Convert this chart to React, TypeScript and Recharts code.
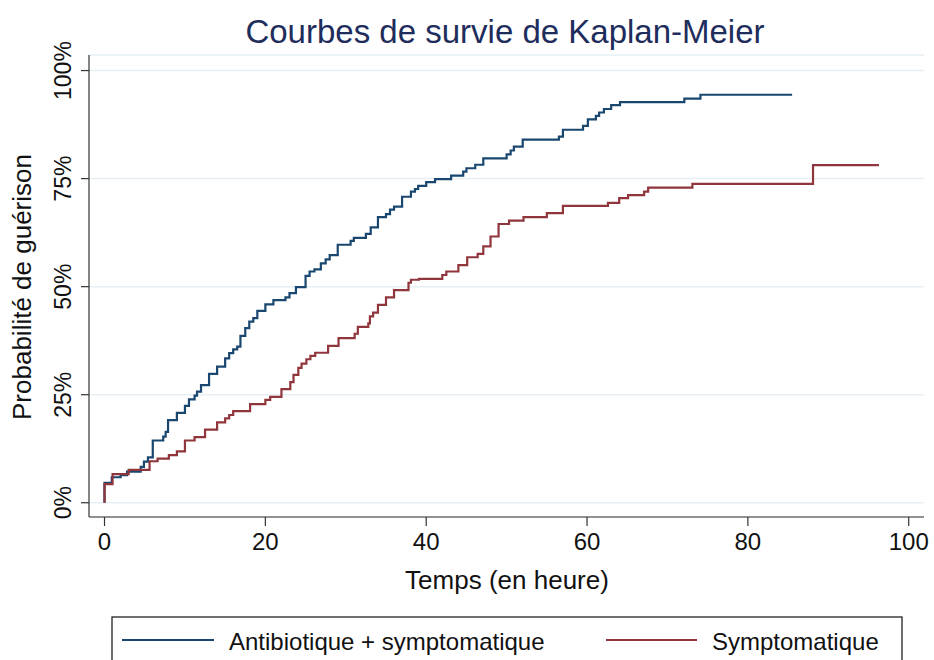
import React from "react";
import { LineChart, Line, XAxis, YAxis, CartesianGrid } from "recharts";

// Kaplan-Meier step data (time in hours, cumulative probability of cure in %)
const blueTimes = [0, 0, 0.9, 2.0, 2.8, 4.5, 4.9, 5.4, 6.0, 7.3, 7.6, 7.9, 9.0, 10.0, 10.5, 11.2, 11.5, 12.0, 13.0, 14.0, 15.0, 15.5, 16.0, 16.5, 16.9, 17.5, 18.0, 18.5, 19.0, 20.0, 21.0, 22.5, 23.0, 23.8, 25.0, 25.5, 26.1, 26.9, 27.5, 28.0, 29.0, 30.6, 31.0, 32.5, 33.1, 34.0, 35.0, 35.5, 36.0, 37.0, 38.1, 38.6, 39.0, 40.0, 41.1, 43.1, 44.6, 45.0, 46.1, 47.1, 50.0, 50.5, 50.9, 52.0, 56.5, 57.0, 59.5, 60.1, 61.1, 61.5, 62.1, 63.0, 64.1, 72.1, 74.1, 85.5];
const blueValues = [0, 4.6, 5.9, 6.4, 7.2, 8.3, 9.5, 10.5, 14.4, 15.3, 16.4, 19.1, 20.8, 22.4, 23.9, 24.8, 25.7, 27.2, 29.8, 31.5, 33.4, 34.6, 35.5, 36.1, 38.6, 40.4, 41.9, 42.7, 44.4, 45.9, 46.9, 47.5, 48.5, 49.9, 52.5, 53.5, 54.0, 55.4, 56.3, 57.3, 59.7, 60.6, 61.3, 62.2, 63.7, 66.1, 66.8, 67.8, 68.5, 70.8, 72.0, 72.6, 73.3, 74.2, 74.9, 75.7, 76.6, 77.4, 78.2, 79.7, 80.6, 81.5, 82.4, 84.0, 84.7, 86.3, 87.2, 88.7, 89.5, 90.3, 91.1, 92.0, 92.7, 93.5, 94.4, 94.4];

const redTimes = [0, 0, 1.0, 3.0, 5.6, 6.6, 8.0, 9.0, 10.0, 11.2, 12.5, 14.0, 15.0, 15.5, 16.0, 18.1, 20.0, 20.6, 22.0, 23.1, 23.5, 24.1, 24.5, 25.1, 25.6, 26.2, 27.8, 29.1, 31.1, 31.5, 32.8, 33.0, 33.4, 34.0, 35.0, 36.0, 37.8, 38.1, 39.1, 42.0, 42.5, 44.0, 45.1, 46.4, 47.1, 48.0, 49.0, 50.3, 52.1, 55.0, 57.0, 62.6, 64.0, 65.1, 67.1, 67.6, 73.1, 88.1, 96.3];
const redValues = [0, 4.3, 6.6, 7.6, 9.6, 10.2, 11.0, 11.9, 14.4, 15.2, 16.9, 18.6, 19.5, 20.3, 21.2, 22.8, 23.8, 24.5, 26.3, 27.9, 29.6, 31.2, 32.2, 33.2, 34.0, 34.7, 36.3, 38.1, 39.1, 40.7, 41.5, 43.1, 44.0, 45.8, 47.5, 49.2, 50.9, 51.6, 51.8, 52.7, 53.5, 55.0, 56.8, 57.6, 59.3, 61.6, 64.5, 65.3, 66.1, 67.0, 68.7, 69.4, 70.5, 71.2, 72.0, 72.9, 73.8, 78.1, 78.1];

const seriesNames = ["Antibiotique + symptomatique", "Symptomatique"];
const seriesColors = ["#1a476f", "#90353b"];
const xTicks = [0, 20, 40, 60, 80, 100];
const yTicks = [0, 25, 50, 75, 100];
const yTickLabels = ["0%", "25%", "50%", "75%", "100%"];
const title = "Courbes de survie de Kaplan-Meier";
const xTitle = "Temps (en heure)";
const yTitle = "Probabilité de guérison";

const blueData = blueTimes.map((t, i) => ({ t, p: blueValues[i] }));
const redData = redTimes.map((t, i) => ({ t, p: redValues[i] }));

const FONT = "'Liberation Sans', Arial, Helvetica, sans-serif";

const YTick = (props: any) => {
  const { y, payload } = props;
  const idx = yTicks.indexOf(payload.value);
  const label = idx >= 0 ? yTickLabels[idx] : String(payload.value);
  const bx = 71;
  return (
    <text
      x={bx}
      y={y}
      transform={`rotate(-90, ${bx}, ${y})`}
      textAnchor="middle"
      fontSize={23}
      fontFamily={FONT}
      fill="#111"
    >
      {label}
    </text>
  );
};

const XTick = (props: any) => {
  const { x, y, payload } = props;
  return (
    <text x={x} y={y} dy={22} textAnchor="middle" fontSize={24} fontFamily={FONT} fill="#111">
      {payload.value}
    </text>
  );
};

export default function App() {
  return (
    <div style={{ position: "absolute", left: 0, top: 0, width: 934, height: 660, background: "#fff", overflow: "hidden" }}>
      <LineChart
        width={934}
        height={660}
        margin={{ top: 55, right: 10, bottom: 103, left: 29 }}
      >
        <CartesianGrid horizontal={true} vertical={false} stroke="#e6eff3" strokeWidth={1.5} />
        <XAxis
          type="number"
          dataKey="t"
          domain={[-1.93, 101.9]}
          ticks={xTicks}
          interval={0}
          height={40}
          tickSize={9}
          tickMargin={2}
          stroke="#333"
          strokeWidth={1.2}
          tick={<XTick />}
          allowDataOverflow
        />
        <YAxis
          type="number"
          dataKey="p"
          domain={[-3.3, 103.6]}
          ticks={yTicks}
          interval={0}
          width={60}
          tickSize={8}
          stroke="#333"
          strokeWidth={1.2}
          tick={<YTick />}
          allowDataOverflow
        />
        <Line
          data={blueData}
          dataKey="p"
          type="stepAfter"
          stroke={seriesColors[0]}
          strokeWidth={2.2}
          dot={false}
          activeDot={false}
          isAnimationActive={false}
          name={seriesNames[0]}
        />
        <Line
          data={redData}
          dataKey="p"
          type="stepAfter"
          stroke={seriesColors[1]}
          strokeWidth={2.2}
          dot={false}
          activeDot={false}
          isAnimationActive={false}
          name={seriesNames[1]}
        />
      </LineChart>
      <svg
        width={934}
        height={660}
        style={{ position: "absolute", left: 0, top: 0, pointerEvents: "none" }}
      >
        <text x={505} y={43} textAnchor="middle" fontSize={33} fontFamily={FONT} fill="#1e2d5c">
          {title}
        </text>
        <text x={507} y={589} textAnchor="middle" fontSize={26} fontFamily={FONT} fill="#111">
          {xTitle}
        </text>
        <text
          x={31}
          y={287}
          transform="rotate(-90, 31, 287)"
          textAnchor="middle"
          fontSize={26}
          fontFamily={FONT}
          fill="#111"
        >
          {yTitle}
        </text>
        <rect x={112} y={617} width={790} height={70} fill="none" stroke="#222" strokeWidth={1.3} />
        <line x1={122} y1={640} x2={214} y2={640} stroke={seriesColors[0]} strokeWidth={2.2} />
        <text x={229} y={650} fontSize={24} fontFamily={FONT} fill="#111">
          {seriesNames[0]}
        </text>
        <line x1={606} y1={640} x2={697} y2={640} stroke={seriesColors[1]} strokeWidth={2.2} />
        <text x={712} y={650} fontSize={24} fontFamily={FONT} fill="#111">
          {seriesNames[1]}
        </text>
      </svg>
    </div>
  );
}
